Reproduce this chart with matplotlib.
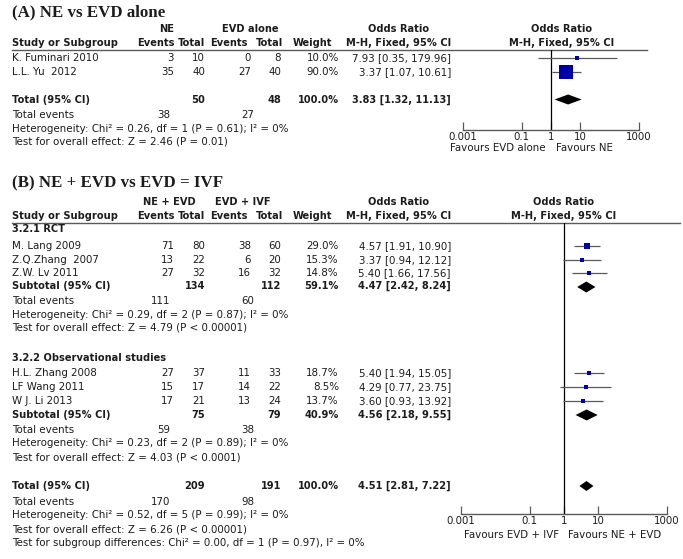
import matplotlib
matplotlib.use("Agg")
import matplotlib.pyplot as plt
from matplotlib.ticker import NullLocator

# ---------------- Panel A data ----------------
a_studies = ["K. Fuminari 2010", "L.L. Yu  2012"]
a_ne_events = [3, 35]
a_ne_total = [10, 40]
a_evd_events = [0, 27]
a_evd_total = [8, 40]
a_weight = [10.0, 90.0]
a_or = [7.93, 3.37]
a_lo = [0.35, 1.07]
a_hi = [179.96, 10.61]
a_total_n = [50, 48]
a_total_events = [38, 27]
a_total_or = [3.83, 1.32, 11.13]
a_het = "Heterogeneity: Chi² = 0.26, df = 1 (P = 0.61); I² = 0%"
a_test = "Test for overall effect: Z = 2.46 (P = 0.01)"

# ---------------- Panel B data ----------------
b_rct_studies = ["M. Lang 2009", "Z.Q.Zhang  2007", "Z.W. Lv 2011"]
b_rct_ev1 = [71, 13, 27]
b_rct_n1 = [80, 22, 32]
b_rct_ev2 = [38, 6, 16]
b_rct_n2 = [60, 20, 32]
b_rct_weight = [29.0, 15.3, 14.8]
b_rct_or = [4.57, 3.37, 5.40]
b_rct_lo = [1.91, 0.94, 1.66]
b_rct_hi = [10.90, 12.12, 17.56]
b_rct_sub_n = [134, 112]
b_rct_sub_w = 59.1
b_rct_sub_or = [4.47, 2.42, 8.24]
b_rct_events = [111, 60]
b_rct_het = "Heterogeneity: Chi² = 0.29, df = 2 (P = 0.87); I² = 0%"
b_rct_test = "Test for overall effect: Z = 4.79 (P < 0.00001)"

b_obs_studies = ["H.L. Zhang 2008", "LF Wang 2011", "W J. Li 2013"]
b_obs_ev1 = [27, 15, 17]
b_obs_n1 = [37, 17, 21]
b_obs_ev2 = [11, 14, 13]
b_obs_n2 = [33, 22, 24]
b_obs_weight = [18.7, 8.5, 13.7]
b_obs_or = [5.40, 4.29, 3.60]
b_obs_lo = [1.94, 0.77, 0.93]
b_obs_hi = [15.05, 23.75, 13.92]
b_obs_sub_n = [75, 79]
b_obs_sub_w = 40.9
b_obs_sub_or = [4.56, 2.18, 9.55]
b_obs_events = [59, 38]
b_obs_het = "Heterogeneity: Chi² = 0.23, df = 2 (P = 0.89); I² = 0%"
b_obs_test = "Test for overall effect: Z = 4.03 (P < 0.0001)"

b_total_n = [209, 191]
b_total_or = [4.51, 2.81, 7.22]
b_total_events = [170, 98]
b_total_het = "Heterogeneity: Chi² = 0.52, df = 5 (P = 0.99); I² = 0%"
b_total_test = "Test for overall effect: Z = 6.26 (P < 0.00001)"
b_subgroup_test = "Test for subgroup differences: Chi² = 0.00, df = 1 (P = 0.97), I² = 0%"

tick_vals = [0.001, 0.1, 1, 10, 1000]
tick_labels = ["0.001", "0.1", "1", "10", "1000"]

# ---------------- Styles ----------------
W, H = 683, 559
FONT = "DejaVu Sans"
FS = 7.4
FSB = 7.1
TXT = "#1c1c1c"
BLUE = "#0000a8"
GREY = "#5a5a5a"

fig = plt.figure(figsize=(W / 100, H / 100), dpi=100)
ax = fig.add_axes([0, 0, 1, 1])
ax.set_xlim(0, W)
ax.set_ylim(H, 0)
ax.axis("off")


def txt(x, y, s, ha="left", bold=False, size=None, family=FONT):
    if size is None:
        size = FSB if bold else FS
    ax.text(x, y, s, ha=ha, va="center", fontsize=size,
            fontweight="bold" if bold else "normal", color=TXT, family=family)


# column positions (right edges) and header centres
C_EV1, C_N1, C_EV2, C_N2, C_W, C_OR = 174, 205, 251, 281, 339, 451
C_TE1, C_TE2 = 170, 254
H_EV1, H_N1, H_EV2, H_N2, H_W, H_OR = 156, 192, 229, 269, 312, 399
X0 = 12


def headers(y1, y2, grp1, grp2, g1x, g2x, orx, line_y, line_x1):
    txt(g1x, y1, grp1, ha="center", bold=True)
    txt(g2x, y1, grp2, ha="center", bold=True)
    txt(H_OR, y1, "Odds Ratio", ha="center", bold=True)
    txt(orx, y1, "Odds Ratio", ha="center", bold=True)
    txt(X0, y2, "Study or Subgroup", bold=True)
    txt(H_EV1, y2, "Events", ha="center", bold=True)
    txt(H_N1, y2, "Total", ha="center", bold=True)
    txt(H_EV2, y2, "Events", ha="center", bold=True)
    txt(H_N2, y2, "Total", ha="center", bold=True)
    txt(H_W, y2, "Weight", ha="center", bold=True)
    txt(H_OR, y2, "M-H, Fixed, 95% CI", ha="center", bold=True)
    txt(orx, y2, "M-H, Fixed, 95% CI", ha="center", bold=True)
    ax.plot([X0, line_x1], [line_y, line_y], color=GREY, lw=1.0)


def study_row(y, name, e1, n1, e2, n2, w, o, lo, hi):
    txt(X0, y, name)
    txt(C_EV1, y, str(e1), ha="right")
    txt(C_N1, y, str(n1), ha="right")
    txt(C_EV2, y, str(e2), ha="right")
    txt(C_N2, y, str(n2), ha="right")
    txt(C_W, y, f"{w:.1f}%", ha="right")
    txt(C_OR, y, f"{o:.2f} [{lo:.2f}, {hi:.2f}]", ha="right")


def total_row(y, label, n1, n2, w, orv):
    txt(X0, y, label, bold=True)
    txt(C_N1, y, str(n1), ha="right", bold=True)
    txt(C_N2, y, str(n2), ha="right", bold=True)
    txt(C_W, y, f"{w:.1f}%", ha="right", bold=True)
    txt(C_OR, y, f"{orv[0]:.2f} [{orv[1]:.2f}, {orv[2]:.2f}]", ha="right", bold=True)


def events_block(y, ev, het, test):
    txt(X0, y, "Total events")
    txt(C_TE1, y, str(ev[0]), ha="right")
    txt(C_TE2, y, str(ev[1]), ha="right")
    txt(X0, y + 13.5, het)
    txt(X0, y + 27, test)


def forest(x_left, x_right, y_top, y_axis):
    fax = fig.add_axes([x_left / W, 1 - y_axis / H, (x_right - x_left) / W,
                        (y_axis - y_top) / H])
    fax.set_xscale("log")
    fax.set_xlim(tick_vals[0], tick_vals[-1])
    fax.set_ylim(y_axis, y_top)
    fax.patch.set_alpha(0)
    for s in ["top", "left", "right"]:
        fax.spines[s].set_visible(False)
    fax.spines["bottom"].set_color(GREY)
    fax.spines["bottom"].set_linewidth(1.0)
    fax.set_yticks([])
    fax.set_xticks(tick_vals)
    fax.set_xticklabels(tick_labels, fontsize=FS, family=FONT, color=TXT)
    fax.xaxis.set_minor_locator(NullLocator())
    fax.tick_params(axis="x", direction="in", length=6, width=0.9,
                    color=GREY, pad=1.5)
    fax.axvline(1, color="black", lw=0.9)
    return fax


def squares(fax, ys, ors, los, his, ws, k=0.6):
    for y, o, lo, hi, w in zip(ys, ors, los, his, ws):
        fax.hlines(y, lo, hi, color=GREY, lw=0.9, clip_on=True)
        side = max(k * w ** 0.7, 3.2)
        fax.plot([o], [y], marker="s", ms=side * 0.72, color=BLUE,
                 mec=BLUE, mew=0, ls="none")


def diamond(fax, y, orv, h):
    o, lo, hi = orv
    fax.fill([lo, o, hi, o], [y, y - h, y, y + h], color="black", lw=0)


# ================= Panel A =================
txt(X0, 12, "(A) NE vs EVD alone", bold=True, size=12.2, family="Liberation Serif")
headers(29, 43, "NE", "EVD alone", 167, 250, 562, 50, 647)
a_rows = [58, 72]
for y, nm, e1, n1, e2, n2, w, o, lo, hi in zip(a_rows, a_studies, a_ne_events, a_ne_total,
                                               a_evd_events, a_evd_total, a_weight,
                                               a_or, a_lo, a_hi):
    study_row(y, nm, e1, n1, e2, n2, w, o, lo, hi)
total_row(100, "Total (95% CI)", a_total_n[0], a_total_n[1], 100.0, a_total_or)
events_block(115, a_total_events, a_het, a_test)

fa = forest(463, 639, 50, 130)
squares(fa, a_rows, a_or, a_lo, a_hi, a_weight)
diamond(fa, 99.5, a_total_or, 5)
txt(546, 148, "Favours EVD alone", ha="right")
txt(556, 148, "Favours NE", ha="left")

# ================= Panel B =================
txt(X0, 183, "(B) NE + EVD vs EVD = IVF", bold=True, size=12.2, family="Liberation Serif")
headers(202, 216, "NE + EVD", "EVD + IVF", 169, 243, 564, 223, 680)

txt(X0, 229, "3.2.1 RCT", bold=True)
b_rct_rows = [246, 260, 273]
for y, nm, e1, n1, e2, n2, w, o, lo, hi in zip(b_rct_rows, b_rct_studies, b_rct_ev1, b_rct_n1,
                                               b_rct_ev2, b_rct_n2, b_rct_weight,
                                               b_rct_or, b_rct_lo, b_rct_hi):
    study_row(y, nm, e1, n1, e2, n2, w, o, lo, hi)
total_row(286, "Subtotal (95% CI)", b_rct_sub_n[0], b_rct_sub_n[1], b_rct_sub_w, b_rct_sub_or)
events_block(301, b_rct_events, b_rct_het, b_rct_test)

txt(X0, 358, "3.2.2 Observational studies", bold=True)
b_obs_rows = [373, 387, 401]
for y, nm, e1, n1, e2, n2, w, o, lo, hi in zip(b_obs_rows, b_obs_studies, b_obs_ev1, b_obs_n1,
                                               b_obs_ev2, b_obs_n2, b_obs_weight,
                                               b_obs_or, b_obs_lo, b_obs_hi):
    study_row(y, nm, e1, n1, e2, n2, w, o, lo, hi)
total_row(415, "Subtotal (95% CI)", b_obs_sub_n[0], b_obs_sub_n[1], b_obs_sub_w, b_obs_sub_or)
events_block(430, b_obs_events, b_obs_het, b_obs_test)

total_row(486, "Total (95% CI)", b_total_n[0], b_total_n[1], 100.0, b_total_or)
events_block(502, b_total_events, b_total_het, b_total_test)
txt(X0, 543, b_subgroup_test)

fb = forest(461, 667, 223, 514)
squares(fb, b_rct_rows, b_rct_or, b_rct_lo, b_rct_hi, b_rct_weight)
squares(fb, b_obs_rows, b_obs_or, b_obs_lo, b_obs_hi, b_obs_weight)
diamond(fb, 287, b_rct_sub_or, 5.5)
diamond(fb, 415, b_obs_sub_or, 5.5)
diamond(fb, 486, b_total_or, 5)
txt(559, 535, "Favours EVD + IVF", ha="right")
txt(568, 535, "Favours NE + EVD", ha="left")

fig.savefig("out.png", dpi=100)
